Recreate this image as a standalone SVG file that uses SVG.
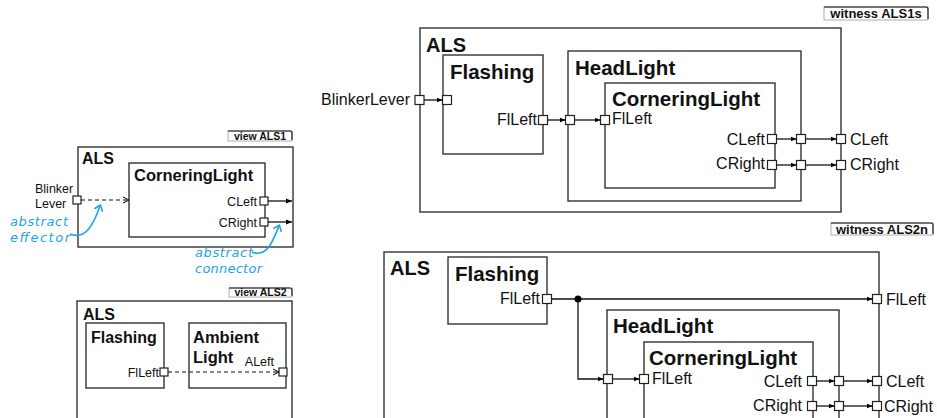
<svg xmlns="http://www.w3.org/2000/svg" width="937" height="418" viewBox="0 0 937 418">
<defs>
<marker id="arr" viewBox="0 0 6 6" refX="6" refY="3" markerWidth="6" markerHeight="6" markerUnits="userSpaceOnUse" orient="auto"><path d="M0,0.5 L6,3 L0,5.5 z" fill="#000"/></marker>
<marker id="open" viewBox="0 0 8 8" refX="7" refY="4" markerWidth="8" markerHeight="8" markerUnits="userSpaceOnUse" orient="auto"><path d="M1,1 L7,4 L1,7" fill="none" stroke="#000" stroke-width="1"/></marker>
<marker id="blue" viewBox="0 0 10 10" refX="5" refY="5" markerWidth="10" markerHeight="10" markerUnits="userSpaceOnUse" orient="auto"><path d="M1,1 L6,5 L1,9" fill="none" stroke="#1ba4e6" stroke-width="1.6" stroke-linecap="round"/></marker>
<style>
.box{fill:#fff;stroke:#333;stroke-width:1.4}
.port{fill:#fff;stroke:#222;stroke-width:1.2}
.t{font-family:"Liberation Sans",Arial,sans-serif;fill:#111}
.tb{font-family:"Liberation Sans",Arial,sans-serif;font-weight:bold;fill:#111}
.c{fill:none;stroke:#111;stroke-width:1.3}
.d{fill:none;stroke:#111;stroke-width:1.2;stroke-dasharray:4,3}
.tag{fill:#fff;stroke:#999;stroke-width:0.8}
.tagc{fill:none;stroke:#111;stroke-width:1.1}
.ann{font-family:"Comic Sans MS","DejaVu Sans",sans-serif;font-style:italic;fill:#1ba4e6;font-size:13px}
.bc{fill:none;stroke:#1ba4e6;stroke-width:1.6}
</style>
</defs>

<!-- view ALS1 -->
<g id="view-ALS1">
<rect class="tag" x="228" y="131" width="64" height="10"/>
<path class="tagc" d="M228,131 H290 Q292,131 292,133 V140"/>
<text class="tb" x="260" y="139.5" font-size="10.5" text-anchor="middle">view ALS1</text>
</g>
<g id="ALS1">
<rect class="box" x="78" y="147" width="215" height="100"/>
<text class="tb" x="82" y="164" font-size="16">ALS</text>
</g>
<g id="ALS1-CorneringLight">
<rect class="box" x="129" y="163" width="136" height="74"/>
<text class="tb" x="134" y="181" font-size="16.5">CorneringLight</text>
</g>
<g id="ALS1-ports">
<rect class="port" x="73" y="196" width="8" height="8"/>
<text class="t" x="35" y="193" font-size="12.5">Blinker</text>
<text class="t" x="35" y="208" font-size="12.5">Lever</text>
<rect class="port" x="260" y="197" width="8" height="8"/>
<rect class="port" x="260" y="218" width="8" height="8"/>
<text class="t" x="257" y="206" font-size="12.5" text-anchor="end">CLeft</text>
<text class="t" x="257" y="227" font-size="12.5" text-anchor="end">CRight</text>
</g>
<g id="annotations">
<text class="ann" x="10" y="226" textLength="58">abstract</text>
<text class="ann" x="10" y="242" textLength="60">effector</text>
<path class="bc" d="M70,234 C85,240 93,226 100,206" marker-end="url(#blue)"/>
<text class="ann" x="195" y="257" textLength="58">abstract</text>
<text class="ann" x="195" y="273" textLength="67">connector</text>
<path class="bc" d="M252,252 C267,258 273,241 279,226" marker-end="url(#blue)"/>
</g>

<!-- view ALS2 -->
<g id="view-ALS2">
<rect class="tag" x="229" y="288" width="63" height="9"/>
<path class="tagc" d="M229,288 H290 Q292,288 292,290 V296"/>
<text class="tb" x="260.5" y="296" font-size="10.5" text-anchor="middle">view ALS2</text>
</g>
<g id="ALS2">
<rect class="box" x="77" y="301" width="215" height="130"/>
<text class="tb" x="83" y="320" font-size="16">ALS</text>
</g>
<g id="ALS2-Flashing">
<rect class="box" x="86" y="323" width="78" height="65"/>
<text class="tb" x="91" y="343" font-size="16">Flashing</text>
<rect class="port" x="160" y="368" width="8" height="8"/>
<text class="t" x="159" y="377" font-size="12.5" text-anchor="end">FlLeft</text>
</g>
<g id="ALS2-AmbientLight">
<rect class="box" x="189" y="323" width="97" height="65"/>
<text class="tb" x="193" y="343" font-size="16.5">Ambient</text>
<text class="tb" x="193" y="363" font-size="16.5">Light</text>
<rect class="port" x="279" y="368" width="8" height="8"/>
<text class="t" x="274" y="366" font-size="12.5" text-anchor="end">ALeft</text>
</g>

<!-- witness ALS1s -->
<g id="witness-ALS1s">
<rect class="tag" x="824" y="7" width="104" height="13"/>
<path class="tagc" d="M824,7 H926 Q928,7 928,9 V19"/>
<text class="tb" x="876" y="18" font-size="13" text-anchor="middle">witness ALS1s</text>
</g>
<g id="W1-ALS">
<rect class="box" x="420" y="28" width="421" height="184"/>
<text class="tb" x="426" y="52" font-size="20">ALS</text>
<rect class="port" x="415" y="95.5" width="9" height="9"/>
<text class="t" x="410" y="105" font-size="16" text-anchor="end">BlinkerLever</text>
<rect class="port" x="836.5" y="134.5" width="9" height="9"/>
<rect class="port" x="836.5" y="160.5" width="9" height="9"/>
<text class="t" x="850" y="145" font-size="16">CLeft</text>
<text class="t" x="850" y="170" font-size="16">CRight</text>
</g>
<g id="W1-Flashing">
<rect class="box" x="443" y="55" width="100" height="99"/>
<text class="tb" x="450" y="79" font-size="20.5">Flashing</text>
<rect class="port" x="442.5" y="95.5" width="9" height="9"/>
<rect class="port" x="538.5" y="115.5" width="9" height="9"/>
<text class="t" x="537" y="125" font-size="16" text-anchor="end">FlLeft</text>
</g>
<g id="W1-HeadLight">
<rect class="box" x="568" y="51" width="233" height="150"/>
<text class="tb" x="575" y="75" font-size="20.5">HeadLight</text>
<rect class="port" x="565.5" y="115.5" width="9" height="9"/>
<rect class="port" x="796.5" y="134.5" width="9" height="9"/>
<rect class="port" x="796.5" y="160.5" width="9" height="9"/>
</g>
<g id="W1-CorneringLight">
<rect class="box" x="605" y="83" width="170" height="105"/>
<text class="tb" x="612" y="106" font-size="20.5">CorneringLight</text>
<rect class="port" x="600.5" y="115.5" width="9" height="9"/>
<text class="t" x="612" y="124" font-size="16">FlLeft</text>
<rect class="port" x="767.5" y="134.5" width="9" height="9"/>
<rect class="port" x="767.5" y="160.5" width="9" height="9"/>
<text class="t" x="765" y="145" font-size="16" text-anchor="end">CLeft</text>
<text class="t" x="765" y="169" font-size="16" text-anchor="end">CRight</text>
</g>

<!-- witness ALS2n -->
<g id="witness-ALS2n">
<rect class="tag" x="831" y="223" width="102" height="12"/>
<path class="tagc" d="M831,223 H931 Q933,223 933,225 V234"/>
<text class="tb" x="882" y="233.5" font-size="13" text-anchor="middle">witness ALS2n</text>
</g>
<g id="W2-ALS">
<rect class="box" x="384" y="252" width="495" height="180"/>
<text class="tb" x="390" y="275" font-size="20">ALS</text>
<rect class="port" x="872.5" y="294.5" width="9" height="9"/>
<text class="t" x="886" y="305" font-size="16">FlLeft</text>
<rect class="port" x="872.5" y="376.5" width="9" height="9"/>
<rect class="port" x="872.5" y="401.5" width="9" height="9"/>
<text class="t" x="886" y="387" font-size="16">CLeft</text>
<text class="t" x="884" y="412" font-size="16">CRight</text>
</g>
<g id="W2-Flashing">
<rect class="box" x="448" y="257" width="99" height="67"/>
<text class="tb" x="455" y="281" font-size="20.5">Flashing</text>
<rect class="port" x="542.5" y="294.5" width="9" height="9"/>
<text class="t" x="540" y="304" font-size="16" text-anchor="end">FlLeft</text>
</g>
<g id="W2-HeadLight">
<rect class="box" x="607" y="310" width="232" height="122"/>
<text class="tb" x="613" y="333" font-size="20.5">HeadLight</text>
<rect class="port" x="603.5" y="374.5" width="9" height="9"/>
<rect class="port" x="834.5" y="376.5" width="9" height="9"/>
<rect class="port" x="834.5" y="401.5" width="9" height="9"/>
</g>
<g id="W2-CorneringLight">
<rect class="box" x="644" y="342" width="169" height="90"/>
<text class="tb" x="649" y="365" font-size="20.5">CorneringLight</text>
<rect class="port" x="639.5" y="374.5" width="9" height="9"/>
<text class="t" x="652" y="384" font-size="16">FlLeft</text>
<rect class="port" x="807.5" y="376.5" width="9" height="9"/>
<rect class="port" x="807.5" y="401.5" width="9" height="9"/>
<text class="t" x="802" y="387" font-size="16" text-anchor="end">CLeft</text>
<text class="t" x="802" y="411" font-size="16" text-anchor="end">CRight</text>
</g>

<g id="connectors">
<line class="d" x1="81" y1="200" x2="129" y2="200" marker-end="url(#open)"/>
<line class="c" x1="268" y1="201" x2="292" y2="201" marker-end="url(#arr)"/>
<line class="c" x1="268" y1="222" x2="292" y2="222" marker-end="url(#arr)"/>
<line class="d" x1="168" y1="372" x2="279" y2="372" marker-end="url(#open)"/>

<line class="c" x1="424" y1="100" x2="442.5" y2="100" marker-end="url(#arr)"/>
<line class="c" x1="547.5" y1="120" x2="565.5" y2="120" marker-end="url(#arr)"/>
<line class="c" x1="574.5" y1="120" x2="600.5" y2="120" marker-end="url(#arr)"/>
<line class="c" x1="776.5" y1="139" x2="796.5" y2="139" marker-end="url(#arr)"/>
<line class="c" x1="805.5" y1="139" x2="836.5" y2="139" marker-end="url(#arr)"/>
<line class="c" x1="776.5" y1="165" x2="796.5" y2="165" marker-end="url(#arr)"/>
<line class="c" x1="805.5" y1="165" x2="836.5" y2="165" marker-end="url(#arr)"/>

<line class="c" x1="551.5" y1="299" x2="872.5" y2="299" marker-end="url(#arr)"/>
<circle cx="578" cy="299" r="3.5" fill="#000"/>
<path class="c" d="M578,299 V379 H603.5" marker-end="url(#arr)"/>
<line class="c" x1="612.5" y1="379" x2="639.5" y2="379" marker-end="url(#arr)"/>
<line class="c" x1="816.5" y1="381" x2="834.5" y2="381" marker-end="url(#arr)"/>
<line class="c" x1="843.5" y1="381" x2="872.5" y2="381" marker-end="url(#arr)"/>
<line class="c" x1="816.5" y1="406" x2="834.5" y2="406" marker-end="url(#arr)"/>
<line class="c" x1="843.5" y1="406" x2="872.5" y2="406" marker-end="url(#arr)"/>
</g>
</svg>
